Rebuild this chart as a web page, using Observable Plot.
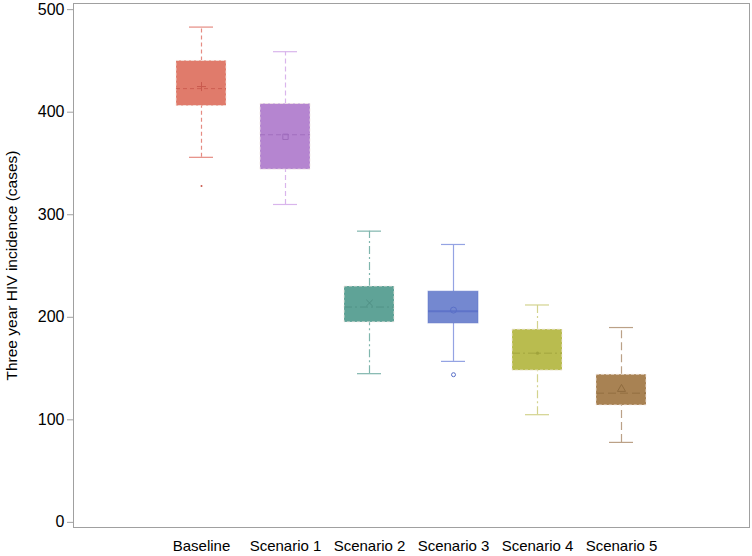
<!DOCTYPE html>
<html>
<head>
<meta charset="utf-8">
<script src="https://cdn.jsdelivr.net/npm/d3@7"></script>
<script src="https://cdn.jsdelivr.net/npm/@observablehq/plot@0.6"></script>
<style>
  html, body { margin: 0; padding: 0; background: #fff; }
  #chart svg { display: block; }
</style>
</head>
<body>
<div id="chart"></div>
<script>
// Data
const categories   = ["Baseline", "Scenario 1", "Scenario 2", "Scenario 3", "Scenario 4", "Scenario 5"];
const whiskerLow   = [356, 310, 145, 157, 105, 78];
const q1           = [406, 344, 195, 194, 148, 114];
const medians      = [423, 378, 210, 206, 165, 126];
const q3           = [450, 408, 230, 225, 188, 144];
const whiskerHigh  = [483, 459, 284, 271, 212, 190];
const means        = [425, 376, 214, 207, 165, 130];
const outlierCategory = ["Baseline", "Scenario 3"];
const outlierValue    = [328, 144];
const yTicks = [0, 100, 200, 300, 400, 500];

// Styles
const fillColors  = ["#e07b6b", "#b585d0", "#5fa397", "#7488d0", "#b9bc4f", "#a88253"];
const lineColors  = ["#e58b82", "#d9b5ec", "#80b6ad", "#94a3e3", "#d3d38e", "#bba187"];
const medianColors= ["#c9594d", "#9d6bbb", "#4f8f84", "#5a70c8", "#a0a33c", "#8f6b3e"];
const dashes      = ["4,3", "5,3", "8,3,2,3", null, "8,3,2,3", "8,4"];
const meanSymbols = ["plus", "square", "times", "circle", "dot", "triangle"];

const rows = categories.map((c, i) => ({
  cat: c, lo: whiskerLow[i], q1: q1[i], med: medians[i], q3: q3[i], hi: whiskerHigh[i], mean: means[i]
}));
const outliers = outlierCategory.map((c, i) => ({cat: c, v: outlierValue[i]}));

const marks = [Plot.frame({stroke: "#a0a0a0"})];

categories.forEach((c, i) => {
  const d = rows.filter(r => r.cat === c);
  const dash = dashes[i];
  const lc = lineColors[i];
  marks.push(
    Plot.ruleX(d, {x: "cat", y1: "lo", y2: "q1", stroke: lc, strokeWidth: 1.2, strokeDasharray: dash}),
    Plot.ruleX(d, {x: "cat", y1: "q3", y2: "hi", stroke: lc, strokeWidth: 1.2, strokeDasharray: dash}),
    Plot.tickY(d, {x: "cat", y: "lo", stroke: lc, strokeWidth: 1.2, insetLeft: 13, insetRight: 13}),
    Plot.tickY(d, {x: "cat", y: "hi", stroke: lc, strokeWidth: 1.2, insetLeft: 13, insetRight: 13}),
    Plot.barY(d, {x: "cat", y1: "q1", y2: "q3", fill: fillColors[i],
      stroke: dash ? "#f2e8e4" : medianColors[i], strokeOpacity: dash ? 0.8 : 0.5,
      strokeWidth: 1, strokeDasharray: dash ? "3,2" : null}),
    Plot.tickY(d, {x: "cat", y: "med", stroke: medianColors[i],
      strokeWidth: dash ? 1 : 2, strokeDasharray: dash, strokeOpacity: 0.85}),
    Plot.dot(d, {x: "cat", y: "mean", symbol: meanSymbols[i],
      r: meanSymbols[i] === "dot" ? 1.6 : 3,
      stroke: meanSymbols[i] === "dot" ? null : medianColors[i],
      fill: meanSymbols[i] === "dot" ? medianColors[i] : "none",
      strokeWidth: 1})
  );
  const od = outliers.filter(o => o.cat === c);
  if (od.length) {
    marks.push(Plot.dot(od, {x: "cat", y: "v",
      r: c === "Baseline" ? 1 : 2,
      fill: c === "Baseline" ? medianColors[i] : "none",
      stroke: c === "Baseline" ? null : medianColors[i], strokeWidth: 1}));
  }
});

marks.push(
  Plot.axisY({ticks: yTicks, tickSize: 6, tickPadding: 3, stroke: "#a0a0a0", fontSize: 16,
    label: null}),
  Plot.axisY({ticks: [], tickSize: 0, fontSize: 15.5,
    label: "Three year HIV incidence (cases)", labelAnchor: "center", labelArrow: "none", labelOffset: 68}),
  Plot.axisX({tickSize: 0, tickPadding: 13, label: null, fontSize: 15})
);

const chart = Plot.plot({
  width: 752,
  height: 556,
  marginLeft: 73,
  marginRight: 3,
  marginTop: 3,
  marginBottom: 29,
  style: {fontFamily: "Arial, 'Liberation Sans', sans-serif", fontSize: "15px", color: "#000", background: "#fff"},
  x: {type: "band", domain: categories, paddingInner: 0.4, paddingOuter: 1.2, align: 0.5},
  y: {domain: [-5, 506], ticks: yTicks},
  marks
});
document.getElementById("chart").appendChild(chart);
</script>
</body>
</html>
